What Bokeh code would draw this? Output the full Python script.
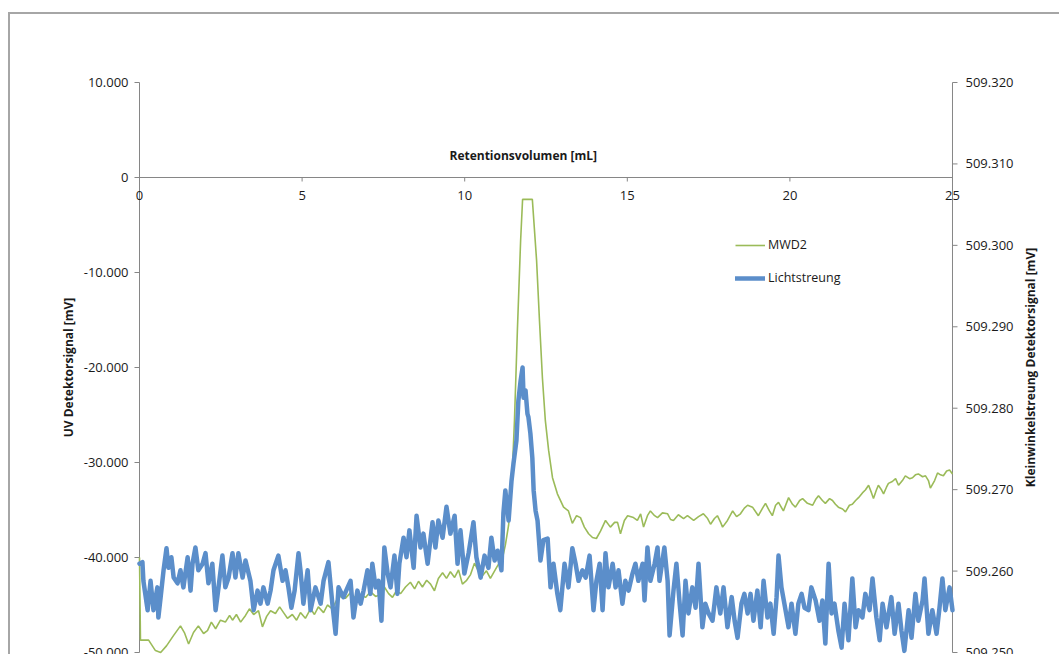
import math
from bokeh.plotting import figure
from bokeh.models import Range1d, Label, Legend, LegendItem
from bokeh.embed import file_html
from bokeh.resources import INLINE

# ---------------- data ----------------
x_ticks = [0, 5, 10, 15, 20, 25]
x_tick_labels = ["0", "5", "10", "15", "20", "25"]
left_ticks = [-50, -40, -30, -20, -10, 0, 10]
left_tick_labels = ["-50.000", "-40.000", "-30.000", "-20.000", "-10.000", "0", "10.000"]
right_ticks = [509.25, 509.26, 509.27, 509.28, 509.29, 509.30, 509.31, 509.32]
right_tick_labels = ["509.250", "509.260", "509.270", "509.280", "509.290", "509.300", "509.310", "509.320"]

mwd2_x = [
    0.00, 0.03, 0.28, 0.49, 0.65, 0.83, 1.05, 1.26, 1.38, 1.51,
    1.66, 1.81, 1.97, 2.09, 2.21, 2.34, 2.49, 2.64, 2.77, 2.86,
    2.98, 3.11, 3.26, 3.38, 3.51, 3.66, 3.78, 3.91, 4.03, 4.18,
    4.31, 4.43, 4.55, 4.70, 4.83, 4.95, 5.10, 5.26, 5.38, 5.50,
    5.66, 5.78, 5.93, 6.06, 6.18, 6.33, 6.49, 6.64, 6.80, 6.95,
    7.10, 7.26, 7.41, 7.53, 7.66, 7.78, 7.90, 8.03, 8.18, 8.33,
    8.46, 8.58, 8.70, 8.83, 8.95, 9.07, 9.19, 9.32, 9.44, 9.56,
    9.69, 9.81, 9.93, 10.06, 10.18, 10.30, 10.42, 10.55, 10.67, 10.79,
    10.92, 11.04, 11.16, 11.25, 11.35, 11.44, 11.53, 11.62, 11.72, 11.78,
    12.08, 12.21, 12.30, 12.39, 12.48, 12.58, 12.70, 12.85, 13.04, 13.19,
    13.31, 13.44, 13.56, 13.68, 13.81, 13.93, 14.05, 14.18, 14.33, 14.48,
    14.61, 14.70, 14.79, 14.91, 15.01, 15.19, 15.31, 15.41, 15.50, 15.62,
    15.71, 15.84, 15.93, 16.08, 16.24, 16.33, 16.42, 16.57, 16.73, 16.85,
    17.04, 17.19, 17.34, 17.47, 17.56, 17.68, 17.77, 17.87, 17.93, 18.08,
    18.24, 18.36, 18.48, 18.60, 18.70, 18.85, 19.03, 19.16, 19.25, 19.37,
    19.46, 19.56, 19.65, 19.80, 19.96, 20.08, 20.17, 20.30, 20.39, 20.54,
    20.70, 20.79, 20.88, 21.00, 21.09, 21.22, 21.31, 21.40, 21.49, 21.62,
    21.71, 21.83, 21.92, 22.02, 22.11, 22.23, 22.32, 22.42, 22.51, 22.57,
    22.66, 22.72, 22.82, 22.88, 22.97, 23.03, 23.15, 23.25, 23.34, 23.46,
    23.55, 23.68, 23.77, 23.86, 23.95, 24.08, 24.17, 24.26, 24.32, 24.45,
    24.54, 24.63, 24.72, 24.82, 24.91, 25.00,
]
mwd2_y = [
    -40.0, -48.7, -48.7, -49.8, -50.0, -49.3, -48.2, -47.2, -47.9, -49.1,
    -47.9, -47.2, -48.0, -47.7, -46.8, -47.5, -46.6, -46.8, -46.1, -46.6,
    -46.0, -46.8, -46.1, -45.4, -46.0, -45.6, -47.3, -46.2, -45.6, -45.9,
    -45.2, -45.8, -46.4, -46.0, -46.6, -45.8, -46.4, -45.4, -46.0, -45.2,
    -45.8, -45.0, -45.4, -44.5, -44.1, -44.3, -43.7, -44.3, -43.9, -44.2,
    -43.6, -44.1, -43.9, -43.1, -43.8, -44.2, -43.5, -43.8, -43.1, -42.6,
    -43.3, -42.5, -43.1, -42.4, -42.8, -43.5, -42.2, -41.6, -42.2, -41.5,
    -42.1, -41.3, -42.8, -42.4, -41.8, -40.6, -41.4, -41.9, -41.4, -42.2,
    -41.4, -40.7, -40.1, -38.7, -36.6, -32.9, -25.6, -16.1, -6.6, -2.3,
    -2.3, -8.7, -15.1, -21.1, -25.6, -28.7, -31.6, -33.3, -34.7, -35.1,
    -36.4, -35.6, -35.8, -36.8, -37.5, -37.9, -38.0, -37.2, -36.1, -36.8,
    -36.3, -36.3, -37.5, -36.1, -35.6, -35.8, -36.1, -35.4, -36.8, -35.6,
    -35.1, -35.6, -35.8, -35.3, -35.4, -36.0, -36.1, -35.5, -35.9, -35.6,
    -36.1, -35.7, -35.4, -35.9, -36.5, -35.9, -35.6, -36.3, -36.8, -36.1,
    -35.1, -35.7, -35.4, -34.8, -34.5, -34.7, -35.6, -34.8, -34.3, -35.1,
    -35.6, -34.5, -34.2, -35.1, -33.7, -34.4, -34.7, -34.0, -33.8, -34.3,
    -34.5, -33.9, -33.5, -34.0, -34.3, -33.8, -34.0, -34.4, -34.7, -34.9,
    -35.2, -34.5, -34.4, -34.0, -33.7, -33.2, -32.9, -32.4, -33.2, -33.8,
    -32.9, -32.4, -32.9, -33.3, -32.6, -32.2, -32.0, -31.7, -32.4, -31.9,
    -31.4, -31.7, -31.6, -31.3, -31.2, -31.5, -31.4, -31.9, -32.7, -31.9,
    -31.1, -31.3, -31.4, -30.9, -30.8, -31.2,
]

licht_x = [
    0.00, 0.09, 0.12, 0.25, 0.34, 0.43, 0.55, 0.58, 0.65, 0.74,
    0.83, 0.89, 0.98, 1.05, 1.17, 1.26, 1.35, 1.48, 1.57, 1.63,
    1.72, 1.81, 1.94, 2.03, 2.12, 2.24, 2.34, 2.43, 2.55, 2.64,
    2.74, 2.86, 2.95, 3.04, 3.17, 3.26, 3.41, 3.51, 3.63, 3.72,
    3.81, 3.94, 4.03, 4.12, 4.27, 4.40, 4.49, 4.58, 4.67, 4.77,
    4.89, 4.95, 5.04, 5.17, 5.26, 5.41, 5.57, 5.66, 5.81, 5.93,
    6.03, 6.12, 6.27, 6.40, 6.49, 6.58, 6.70, 6.80, 6.89, 7.01,
    7.10, 7.16, 7.26, 7.35, 7.44, 7.53, 7.63, 7.72, 7.84, 7.93,
    7.99, 8.12, 8.21, 8.30, 8.43, 8.52, 8.64, 8.73, 8.86, 9.01,
    9.10, 9.19, 9.32, 9.44, 9.56, 9.69, 9.78, 9.87, 9.99, 10.12,
    10.27, 10.36, 10.49, 10.61, 10.73, 10.82, 10.92, 11.01, 11.13, 11.19,
    11.25, 11.35, 11.44, 11.50, 11.59, 11.65, 11.72, 11.78, 11.81, 11.87,
    11.93, 11.96, 12.02, 12.08, 12.12, 12.18, 12.24, 12.33, 12.42, 12.55,
    12.64, 12.73, 12.85, 12.94, 13.07, 13.19, 13.31, 13.41, 13.50, 13.62,
    13.72, 13.84, 13.96, 14.05, 14.15, 14.24, 14.33, 14.42, 14.55, 14.64,
    14.73, 14.85, 14.94, 15.04, 15.16, 15.25, 15.34, 15.47, 15.53, 15.62,
    15.71, 15.84, 15.93, 15.99, 16.14, 16.24, 16.30, 16.42, 16.51, 16.61,
    16.70, 16.79, 16.88, 17.00, 17.10, 17.19, 17.31, 17.40, 17.50, 17.62,
    17.74, 17.86, 17.96, 18.08, 18.21, 18.30, 18.39, 18.51, 18.60, 18.70,
    18.79, 18.88, 19.00, 19.10, 19.19, 19.31, 19.40, 19.50, 19.59, 19.65,
    19.74, 19.83, 19.96, 20.05, 20.17, 20.26, 20.36, 20.45, 20.57, 20.66,
    20.79, 20.91, 21.00, 21.09, 21.19, 21.28, 21.37, 21.49, 21.59, 21.68,
    21.80, 21.92, 22.02, 22.11, 22.23, 22.32, 22.45, 22.54, 22.66, 22.76,
    22.85, 22.97, 23.12, 23.22, 23.34, 23.43, 23.52, 23.65, 23.74, 23.86,
    23.95, 24.08, 24.14, 24.26, 24.38, 24.51, 24.60, 24.69, 24.78, 24.91,
    25.00,
]
licht_y = [
    509.2609, 509.2611, 509.2588, 509.2552, 509.2588, 509.2552, 509.2580, 509.2543, 509.2568, 509.2601,
    509.2628, 509.2604, 509.2617, 509.2592, 509.2585, 509.2601, 509.2580, 509.2617, 509.2576, 509.2609,
    509.2629, 509.2601, 509.2609, 509.2622, 509.2585, 509.2609, 509.2552, 509.2580, 509.2619, 509.2580,
    509.2592, 509.2622, 509.2592, 509.2622, 509.2592, 509.2613, 509.2588, 509.2552, 509.2576, 509.2560,
    509.2580, 509.2560, 509.2576, 509.2601, 509.2619, 509.2588, 509.2601, 509.2580, 509.2555, 509.2576,
    509.2622, 509.2601, 509.2560, 509.2601, 509.2552, 509.2580, 509.2560, 509.2588, 509.2611, 509.2560,
    509.2523, 509.2580, 509.2568, 509.2580, 509.2588, 509.2543, 509.2576, 509.2560, 509.2576, 509.2601,
    509.2572, 509.2609, 509.2580, 509.2588, 509.2539, 509.2629, 509.2597, 509.2580, 509.2619, 509.2572,
    509.2609, 509.2641, 509.2617, 509.2650, 509.2604, 509.2668, 509.2629, 509.2646, 509.2609, 509.2660,
    509.2629, 509.2662, 509.2641, 509.2679, 509.2646, 509.2668, 509.2609, 509.2650, 509.2597, 509.2622,
    509.2660, 509.2617, 509.2592, 509.2619, 509.2604, 509.2641, 509.2613, 509.2625, 509.2601, 509.2671,
    509.2699, 509.2662, 509.2711, 509.2732, 509.2760, 509.2809, 509.2834, 509.2850, 509.2813, 509.2822,
    509.2793, 509.2789, 509.2769, 509.2739, 509.2699, 509.2674, 509.2662, 509.2613, 509.2638, 509.2640,
    509.2580, 509.2609, 509.2572, 509.2552, 509.2609, 509.2580, 509.2628, 509.2609, 509.2588, 509.2601,
    509.2592, 509.2619, 509.2552, 509.2588, 509.2609, 509.2552, 509.2622, 509.2580, 509.2609, 509.2580,
    509.2601, 509.2560, 509.2588, 509.2576, 509.2597, 509.2609, 509.2588, 509.2609, 509.2564, 509.2629,
    509.2588, 509.2609, 509.2629, 509.2588, 509.2629, 509.2588, 509.2521, 509.2576, 509.2609, 509.2560,
    509.2521, 509.2588, 509.2548, 509.2580, 509.2555, 509.2609, 509.2531, 509.2560, 509.2548, 509.2539,
    509.2580, 509.2548, 509.2580, 509.2531, 509.2568, 509.2539, 509.2518, 509.2560, 509.2572, 509.2548,
    509.2572, 509.2539, 509.2576, 509.2531, 509.2588, 509.2543, 509.2560, 509.2523, 509.2568, 509.2619,
    509.2580, 509.2560, 509.2531, 509.2560, 509.2523, 509.2560, 509.2572, 509.2555, 509.2552, 509.2580,
    509.2564, 509.2539, 509.2564, 509.2511, 509.2609, 509.2548, 509.2560, 509.2527, 509.2506, 509.2560,
    509.2515, 509.2591, 509.2531, 509.2552, 509.2543, 509.2572, 509.2552, 509.2591, 509.2543, 509.2515,
    509.2560, 509.2531, 509.2568, 509.2523, 509.2560, 509.2527, 509.2502, 509.2552, 509.2518, 509.2572,
    509.2539, 509.2564, 509.2591, 509.2523, 509.2552, 509.2523, 509.2555, 509.2591, 509.2552, 509.2580,
    509.2552,
]

# ---------------- styling ----------------
FONT = "Open Sans"
TXT = "#1a1a1a"
AXIS = "#868686"
GREEN = "#9BBB59"
BLUE = "#5B8ECA"
NUM_SIZE = "13px"

# frame spans the whole chart area; axes are drawn at x = 0 and x = 25
p = figure(width=1051, height=642, output_backend="svg", toolbar_location=None,
           x_range=Range1d(-3.9668, 28.3518), y_range=Range1d(-50.421, 17.158),
           x_axis_location=None, y_axis_location=None,
           min_border_left=0, min_border_right=0, min_border_top=0, min_border_bottom=0)
p.extra_y_ranges = {"r": Range1d(509.24951, 509.32835)}
p.margin = (12, 0, 0, 8)
p.styles = {"border-top": "2px solid #A6A6A6", "border-left": "2px solid #A6A6A6"}
p.outline_line_color = None
p.xgrid.visible = False
p.ygrid.visible = False
p.background_fill_color = "white"
p.border_fill_color = "white"

x0, x1 = x_ticks[0], x_ticks[-1]

# left axis
p.segment(x0=[x0], x1=[x0], y0=[left_ticks[0]], y1=[left_ticks[-1]], line_color=AXIS, line_width=1)
p.ray(x=[x0] * len(left_ticks), y=left_ticks, length=5, length_units="screen",
      angle=math.pi, line_color=AXIS, line_width=1)
for t, lab in zip(left_ticks, left_tick_labels):
    p.add_layout(Label(x=x0, y=t, text=lab, text_align="right", text_baseline="middle",
                       x_offset=-11, text_font=FONT, text_font_size=NUM_SIZE, text_color=TXT))
p.add_layout(Label(x=x0, y=-20, text="UV Detektorsignal [mV]", angle=math.pi / 2,
                   text_align="center", text_baseline="middle", x_offset=-71,
                   text_font=FONT, text_font_size="12px", text_font_style="bold", text_color=TXT))

# right axis
p.segment(x0=[x1], x1=[x1], y0=[right_ticks[0]], y1=[right_ticks[-1]], y_range_name="r",
          line_color=AXIS, line_width=1)
p.ray(x=[x1] * len(right_ticks), y=right_ticks, y_range_name="r", length=5,
      length_units="screen", angle=0, line_color=AXIS, line_width=1)
for t, lab in zip(right_ticks, right_tick_labels):
    p.add_layout(Label(x=x1, y=t, y_range_name="r", text=lab, text_align="left",
                       text_baseline="middle", x_offset=13, text_font=FONT,
                       text_font_size=NUM_SIZE, text_color=TXT))
p.add_layout(Label(x=x1, y=-20, text="Kleinwinkelstreung Detektorsignal [mV]", angle=math.pi / 2,
                   text_align="center", text_baseline="middle", x_offset=78,
                   text_font=FONT, text_font_size="12px", text_font_style="bold", text_color=TXT))

# x axis (crosses at y = 0)
p.segment(x0=[x0], x1=[x1], y0=[0], y1=[0], line_color=AXIS, line_width=1)
p.ray(x=x_ticks, y=[0] * len(x_ticks), length=4, length_units="screen",
      angle=-math.pi / 2, line_color=AXIS, line_width=1)
for t, lab in zip(x_ticks, x_tick_labels):
    p.add_layout(Label(x=t, y=0, text=lab, text_align="center", text_baseline="middle",
                       y_offset=-18, text_font=FONT, text_font_size=NUM_SIZE, text_color=TXT))
p.add_layout(Label(x=11.8, y=0, text="Retentionsvolumen [mL]", text_align="center",
                   text_baseline="middle", y_offset=22, text_font=FONT, text_font_size="12px",
                   text_font_style="bold", text_color=TXT))

# series
r1 = p.line(mwd2_x, mwd2_y, line_color=GREEN, line_width=1.6)
r2 = p.line(licht_x, licht_y, y_range_name="r", line_color=BLUE, line_width=4.5,
            line_join="round", line_cap="round")

legend = Legend(items=[LegendItem(label="MWD2", renderers=[r1]),
                       LegendItem(label="Lichtstreung", renderers=[r2])],
                location=(725, 370), orientation="vertical")
legend.border_line_color = None
legend.background_fill_alpha = 0
legend.padding = 0
legend.margin = 0
legend.spacing = 16
legend.glyph_width = 30
legend.glyph_height = 16
legend.label_height = 16
legend.label_standoff = 3
legend.label_text_font = FONT
legend.label_text_font_size = "12.5px"
legend.label_text_color = TXT
p.add_layout(legend)

open("out.html", "w").write(file_html(p, INLINE))
